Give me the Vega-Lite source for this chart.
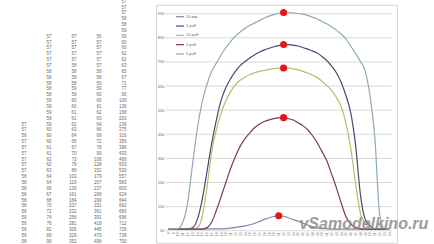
{
  "$schema": "https://vega.github.io/schema/vega-lite/v6.json",
  "padding": 0,
  "background": "white",
  "spacing": 5,
  "center": true,
  "resolve": {"legend": {"color": "independent"}},
  "config": {
    "view": {"stroke": null},
    "font": "Liberation Sans",
    "axisX": {"labelAngle":270,"labelFontSize":3.5,"labelColor":"#777","offset":-12,"domain":false,"ticks":false,"grid":false,"title":null,"labelPadding":1,"labelOverlap":false,"labelFlush":false,"labelBound":false},
    "axisY": {"labelFontSize":4,"labelColor":"#666","offset":-10,"domain":false,"ticks":false,"grid":false,"title":null,"labelPadding":2,"labelOverlap":false,"labelFlush":false}
  },
  "datasets": {
    "table": [
      {"r":1,"c5":57},{"r":2,"c5":57},{"r":3,"c5":57},{"r":4,"c5":58},{"r":5,"c5":58},{"r":6,"c5":59},
      {"r":7,"c2":57,"c3":57,"c4":56,"c5":59},
      {"r":8,"c2":57,"c3":57,"c4":57,"c5":60},
      {"r":9,"c2":57,"c3":57,"c4":57,"c5":60},
      {"r":10,"c2":57,"c3":57,"c4":57,"c5":62},
      {"r":11,"c2":57,"c3":57,"c4":57,"c5":62},
      {"r":12,"c2":57,"c3":58,"c4":57,"c5":63},
      {"r":13,"c2":58,"c3":58,"c4":58,"c5":65},
      {"r":14,"c2":58,"c3":58,"c4":58,"c5":67},
      {"r":15,"c2":58,"c3":58,"c4":59,"c5":71},
      {"r":16,"c2":58,"c3":59,"c4":59,"c5":77},
      {"r":17,"c2":58,"c3":59,"c4":60,"c5":90},
      {"r":18,"c2":59,"c3":60,"c4":60,"c5":109},
      {"r":19,"c2":59,"c3":60,"c4":61,"c5":136},
      {"r":20,"c2":59,"c3":61,"c4":62,"c5":168},
      {"r":21,"c2":59,"c3":61,"c4":63,"c5":203},
      {"r":22,"c1":57,"c2":59,"c3":62,"c4":64,"c5":236},
      {"r":23,"c1":57,"c2":60,"c3":63,"c4":66,"c5":275},
      {"r":24,"c1":56,"c2":60,"c3":64,"c4":69,"c5":316},
      {"r":25,"c1":57,"c2":60,"c3":65,"c4":72,"c5":356},
      {"r":26,"c1":57,"c2":61,"c3":67,"c4":78,"c5":396},
      {"r":27,"c1":57,"c2":61,"c3":70,"c4":90,"c5":433},
      {"r":28,"c1":57,"c2":62,"c3":73,"c4":106,"c5":468},
      {"r":29,"c1":57,"c2":62,"c3":79,"c4":128,"c5":503},
      {"r":30,"c1":57,"c2":63,"c3":89,"c4":152,"c5":530},
      {"r":31,"c1":58,"c2":64,"c3":103,"c4":179,"c5":557},
      {"r":32,"c1":58,"c2":64,"c3":119,"c4":207,"c5":583},
      {"r":33,"c1":58,"c2":66,"c3":139,"c4":237,"c5":603},
      {"r":34,"c1":58,"c2":67,"c3":161,"c4":268,"c5":624},
      {"r":35,"c1":58,"c2":68,"c3":184,"c4":299,"c5":644},
      {"r":36,"c1":58,"c2":70,"c3":207,"c4":331,"c5":662},
      {"r":37,"c1":58,"c2":72,"c3":232,"c4":361,"c5":680},
      {"r":38,"c1":59,"c2":74,"c3":256,"c4":391,"c5":696},
      {"r":39,"c1":59,"c2":76,"c3":281,"c4":418,"c5":712},
      {"r":40,"c1":59,"c2":82,"c3":305,"c4":445,"c5":726},
      {"r":41,"c1":59,"c2":89,"c3":329,"c4":470,"c5":738},
      {"r":42,"c1":58,"c2":98,"c3":352,"c4":498,"c5":750}
    ],
    "curves": [
      {"x":8,"50 мм":57,"1 puff":57,"10 puff":57,"2 puff":57,"5 puff":57},
      {"x":9,"50 мм":57,"1 puff":57,"10 puff":57,"2 puff":57,"5 puff":58},
      {"x":10,"50 мм":57,"1 puff":57,"10 puff":57,"2 puff":57,"5 puff":60},
      {"x":11,"50 мм":57,"1 puff":57,"10 puff":57,"2 puff":57,"5 puff":85},
      {"x":12,"50 мм":57,"1 puff":57,"10 puff":57,"2 puff":57,"5 puff":165},
      {"x":13,"50 мм":57,"1 puff":62,"10 puff":57,"2 puff":57,"5 puff":320},
      {"x":14,"50 мм":57,"1 puff":95,"10 puff":62,"2 puff":57,"5 puff":470},
      {"x":15,"50 мм":57,"1 puff":175,"10 puff":105,"2 puff":57,"5 puff":580},
      {"x":16,"50 мм":58,"1 puff":290,"10 puff":225,"2 puff":62,"5 puff":655},
      {"x":17,"50 мм":58,"1 puff":410,"10 puff":375,"2 puff":85,"5 puff":710},
      {"x":18,"50 мм":58,"1 puff":510,"10 puff":470,"2 puff":135,"5 puff":745},
      {"x":19,"50 мм":58,"1 puff":593,"10 puff":540,"2 puff":192,"5 puff":780},
      {"x":20,"50 мм":59,"1 puff":645,"10 puff":590,"2 puff":252,"5 puff":810},
      {"x":21,"50 мм":61,"1 puff":682,"10 puff":628,"2 puff":310,"5 puff":835},
      {"x":22,"50 мм":64,"1 puff":712,"10 puff":656,"2 puff":360,"5 puff":858},
      {"x":23,"50 мм":67,"1 puff":736,"10 puff":675,"2 puff":402,"5 puff":875},
      {"x":24,"50 мм":70,"1 puff":752,"10 puff":688,"2 puff":433,"5 puff":890},
      {"x":25,"50 мм":75,"1 puff":767,"10 puff":698,"2 puff":457,"5 puff":902},
      {"x":26,"50 мм":81,"1 puff":780,"10 puff":705,"2 puff":478,"5 puff":912},
      {"x":27,"50 мм":89,"1 puff":791,"10 puff":711,"2 puff":493,"5 puff":922},
      {"x":28,"50 мм":97,"1 puff":800,"10 puff":715,"2 puff":503,"5 puff":932},
      {"x":29,"50 мм":104,"1 puff":807,"10 puff":719,"2 puff":510,"5 puff":940},
      {"x":30,"50 мм":109,"1 puff":813,"10 puff":722,"2 puff":515,"5 puff":947},
      {"x":31,"50 мм":112,"1 puff":818,"10 puff":724,"2 puff":518,"5 puff":952},
      {"x":32,"50 мм":110,"1 puff":822,"10 puff":725,"2 puff":519,"5 puff":955},
      {"x":33,"50 мм":104,"1 puff":822,"10 puff":724,"2 puff":515,"5 puff":955},
      {"x":34,"50 мм":96,"1 puff":820,"10 puff":721,"2 puff":509,"5 puff":953},
      {"x":35,"50 мм":90,"1 puff":816,"10 puff":717,"2 puff":498,"5 puff":951},
      {"x":36,"50 мм":82,"1 puff":810,"10 puff":711,"2 puff":486,"5 puff":948},
      {"x":37,"50 мм":74,"1 puff":803,"10 puff":704,"2 puff":469,"5 puff":943},
      {"x":38,"50 мм":67,"1 puff":796,"10 puff":695,"2 puff":445,"5 puff":936},
      {"x":39,"50 мм":62,"1 puff":787,"10 puff":685,"2 puff":415,"5 puff":928},
      {"x":40,"50 мм":59,"1 puff":773,"10 puff":670,"2 puff":378,"5 puff":918},
      {"x":41,"50 мм":58,"1 puff":756,"10 puff":652,"2 puff":340,"5 puff":908},
      {"x":42,"50 мм":57,"1 puff":733,"10 puff":632,"2 puff":285,"5 puff":896},
      {"x":43,"50 мм":57,"1 puff":705,"10 puff":603,"2 puff":228,"5 puff":882},
      {"x":44,"50 мм":57,"1 puff":665,"10 puff":565,"2 puff":165,"5 puff":865},
      {"x":45,"50 мм":57,"1 puff":610,"10 puff":495,"2 puff":108,"5 puff":845},
      {"x":46,"50 мм":57,"1 puff":538,"10 puff":390,"2 puff":78,"5 puff":815},
      {"x":47,"50 мм":57,"1 puff":405,"10 puff":245,"2 puff":64,"5 puff":785},
      {"x":48,"50 мм":57,"1 puff":200,"10 puff":122,"2 puff":58,"5 puff":752},
      {"x":49,"50 мм":57,"1 puff":97,"10 puff":78,"2 puff":57,"5 puff":712},
      {"x":50,"50 мм":57,"1 puff":70,"10 puff":62,"2 puff":57,"5 puff":610},
      {"x":51,"50 мм":57,"1 puff":58,"10 puff":58,"2 puff":57,"5 puff":440},
      {"x":52,"50 мм":57,"1 puff":57,"10 puff":57,"2 puff":57,"5 puff":120},
      {"x":53,"50 мм":57,"1 puff":57,"10 puff":57,"2 puff":57,"5 puff":60},
      {"x":54,"50 мм":57,"1 puff":57,"10 puff":57,"2 puff":57,"5 puff":56}
    ],
    "peaks": [
      {"series":"5 puff","x":32,"v":955},
      {"series":"1 puff","x":32,"v":822},
      {"series":"10 puff","x":32,"v":725},
      {"series":"2 puff","x":32,"v":519},
      {"series":"50 мм","x":31,"v":112}
    ],
    "grid": [{"g":50},{"g":150},{"g":250},{"g":350},{"g":450},{"g":550},{"g":650},{"g":750},{"g":850},{"g":950}],
    "watermark": [{"t":"vSamodelkino.ru","x":35.3,"v":79}]
  },
  "hconcat": [
    {
      "width": 150,
      "height": 248,
      "data": {"name": "table"},
      "transform": [
        {"fold": ["c1","c2","c3","c4","c5"], "as": ["col","val"]},
        {"filter": "isValid(datum.val)"}
      ],
      "mark": {"type":"text","align":"right","baseline":"middle","fontSize":4.5,"color":"#6a6a6a","clip":true},
      "encoding": {
        "x": {"field":"col","type":"ordinal","scale":{"type":"point","domain":["c1","c2","c3","c4","c5"],"padding":1.56,"align":0.528},"axis":null},
        "y": {"field":"r","type":"quantitative","scale":{"domain":[0.715,43.11],"reverse":true,"nice":false,"zero":false},"axis":null},
        "text": {"field":"val","type":"nominal"}
      }
    },
    {
      "width": 241,
      "height": 238,
      "view": {"stroke": "#d4d4d4", "strokeWidth": 1},
      "encoding": {
        "x": {"type":"quantitative","scale":{"domain":[5.417,55.625],"nice":false,"zero":false},
              "axis":{"values":[8,9,10,11,12,13,14,15,16,17,18,19,20,21,22,23,24,25,26,27,28,29,30,31,32,33,34,35,36,37,38,39,40,41,42,43,44,45,46,47,48,49,50,51,52,53,54],"title":null}},
        "y": {"type":"quantitative","scale":{"domain":[0.24,987.2],"nice":false,"zero":false},
              "axis":{"values":[50,150,250,350,450,550,650,750,850,950],"title":null}}
      },
      "layer": [
        {
          "data": {"name": "grid"},
          "mark": {"type":"rule","color":"#d9d9d9","strokeWidth":1},
          "encoding": {
            "y": {"field":"g","type":"quantitative"},
            "x": {"datum":7.5,"type":"quantitative"},
            "x2": {"datum":54.5}
          }
        },
        {
          "data": {"name": "curves"},
          "transform": [{"fold": ["50 мм","1 puff","10 puff","2 puff","5 puff"], "as": ["series","v"]}],
          "mark": {"type":"line","strokeWidth":1.2,"interpolate":"monotone"},
          "encoding": {
            "x": {"field":"x","type":"quantitative"},
            "y": {"field":"v","type":"quantitative"},
            "color": {"field":"series","type":"nominal",
                      "scale":{"domain":["50 мм","1 puff","10 puff","2 puff","5 puff"],"range":["#7b87a6","#4b4870","#b5bd6e","#7a3d55","#8fabbb"]},
                      "legend":{"orient":"none","legendX":19,"legendY":7,"title":null,"symbolType":"stroke","symbolSize":64,"symbolStrokeWidth":1.2,"labelFontSize":4,"labelColor":"#666","rowPadding":1.3,"labelOffset":1,"padding":0}}
          }
        },
        {
          "data": {"name": "peaks"},
          "mark": {"type":"point","filled":true,"opacity":1,"size":50,"color":"#e8141c"},
          "encoding": {
            "x": {"field":"x","type":"quantitative"},
            "y": {"field":"v","type":"quantitative"}
          }
        },
        {
          "data": {"name": "watermark"},
          "mark": {"type":"text","align":"left","baseline":"middle","fontSize":16,"fontWeight":"bold","fontStyle":"italic","color":"#8c8c8c","opacity":0.85},
          "encoding": {
            "x": {"field":"x","type":"quantitative"},
            "y": {"field":"v","type":"quantitative"},
            "text": {"field":"t","type":"nominal"}
          }
        }
      ]
    }
  ]
}
